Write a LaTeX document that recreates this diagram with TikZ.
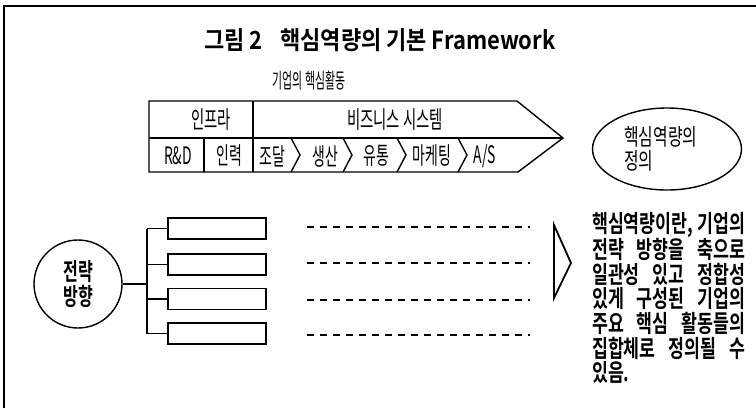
\documentclass[tikz,border=0pt]{standalone}
\usepackage{fontspec}
\usetikzlibrary{shapes.geometric}
\setmainfont{Noto Sans CJK KR}
\newfontfamily\condf{Noto Sans CJK KR}[FakeStretch=0.6]
\newfontfamily\condr{Noto Sans CJK KR}[FakeStretch=0.58]
\newfontfamily\condn{Noto Sans CJK KR}[FakeStretch=0.52]
\newfontfamily\conde{Noto Sans CJK KR}[FakeStretch=0.69]
\newfontfamily\condb{Noto Sans CJK KR Bold}[FakeStretch=0.67]
\newfontfamily\condt{Noto Sans CJK KR Bold}[FakeStretch=0.72]
\newfontfamily\titlef{Noto Sans CJK KR Bold}[FakeStretch=0.88]
\tikzset{
  frameline/.style={line width=2pt},
  shapeline/.style={line width=1.4pt},
  cell/.style={inner sep=0pt, font=\condf\fontsize{24}{26}\selectfont},
  cellb/.style={inner sep=0pt, font=\condr\fontsize{24}{26}\selectfont},
  branchbox/.style={draw, shapeline, rectangle, minimum width=98pt, minimum height=21pt, inner sep=0pt},
  dashline/.style={line width=1.8pt, dash pattern=on 7pt off 6pt},
}
\begin{document}
\begin{tikzpicture}[x=1pt,y=-1pt]
\useasboundingbox (0,0) rectangle (756,408);
\fill[white] (0,0) rectangle (756,408);
% frame
\draw[frameline] (4,408) -- (4,6) -- (756,6);
% title
\node[inner sep=0pt, font=\titlef\fontsize{25}{28}\selectfont] (title) at (380,40) {그림 2\hspace{0.7em}핵심역량의 기본 Framework};
\node[inner sep=0pt, font=\condn\fontsize{21}{23}\selectfont] (act) at (309,81) {기업의 핵심활동};
% big arrow shape
\draw[shapeline, line join=miter] (149,101) -- (517,101) -- (563,138) -- (518,172) -- (149,172) -- cycle;
\draw[shapeline] (149,138) -- (563,138);
\draw[shapeline] (253,101) -- (253,172);
\draw[shapeline] (204,138) -- (204,172);
\foreach \x in {291,343,397,458} \draw[shapeline] (\x,138) -- (\x+9,155) -- (\x,172);
\node[cell] (infra) at (211,120) {인프라};
\node[cell] (bizsys) at (395,120) {비즈니스 시스템};
\node[cellb] (rnd) at (178,156) {R\&D};
\node[cellb] (staff) at (229,156) {인력};
\node[cellb] (proc) at (272,156) {조달};
\node[cellb] (prod) at (325,156) {생산};
\node[cellb] (dist) at (376,156) {유통};
\node[cellb] (mkt) at (432,156) {마케팅};
\node[cellb] (as) at (485,156) {A/S};
% ellipse
\node[draw, shapeline, ellipse, minimum width=149pt, minimum height=82pt, inner sep=0pt] (ell) at (667,149) {};
\node[inner sep=0pt, anchor=west, align=left, font=\conde\fontsize{23}{24}\selectfont] (ellt) at (624,149) {핵심역량의\\정의};
% strategy circle and tree
\node[draw, shapeline, circle, minimum size=88pt, inner sep=0pt, align=center, font=\condb\fontsize{24}{25}\selectfont] (strat) at (78,284) {전략\\방향};
\node[branchbox] (b1) at (217,228.5) {};
\node[branchbox] (b2) at (217,264.5) {};
\node[branchbox] (b3) at (217,299) {};
\node[branchbox] (b4) at (217,333.5) {};
\coordinate (tr) at (147,0);
\draw[shapeline] (b1.west -| tr) -- (b4.west -| tr);
\draw[shapeline] (strat.east) -- (strat.east -| tr);
\foreach \b in {b1,b2,b3,b4} \draw[shapeline] (\b.west) -- (\b.west -| tr);
% dashed lines
\foreach \y in {227,263,300,335} \draw[dashline] (307,\y) -- (530,\y);
% triangle
\draw[line width=1.8pt, line join=miter] (554,225) -- (571,263) -- (554,298) -- cycle;
% definition text
\node[anchor=north west, inner sep=0pt, text width=153pt, align=justify, font=\condt\fontsize{24}{24.6}\selectfont] (def) at (592,212) {핵심역량이란, 기업의\linebreak 전략 방향을 축으로\linebreak 일관성 있고 정합성\linebreak 있게 구성된 기업의\linebreak 주요 핵심 활동들의\linebreak 집합체로 정의될 수\linebreak 있음.};
\end{tikzpicture}
\end{document}
